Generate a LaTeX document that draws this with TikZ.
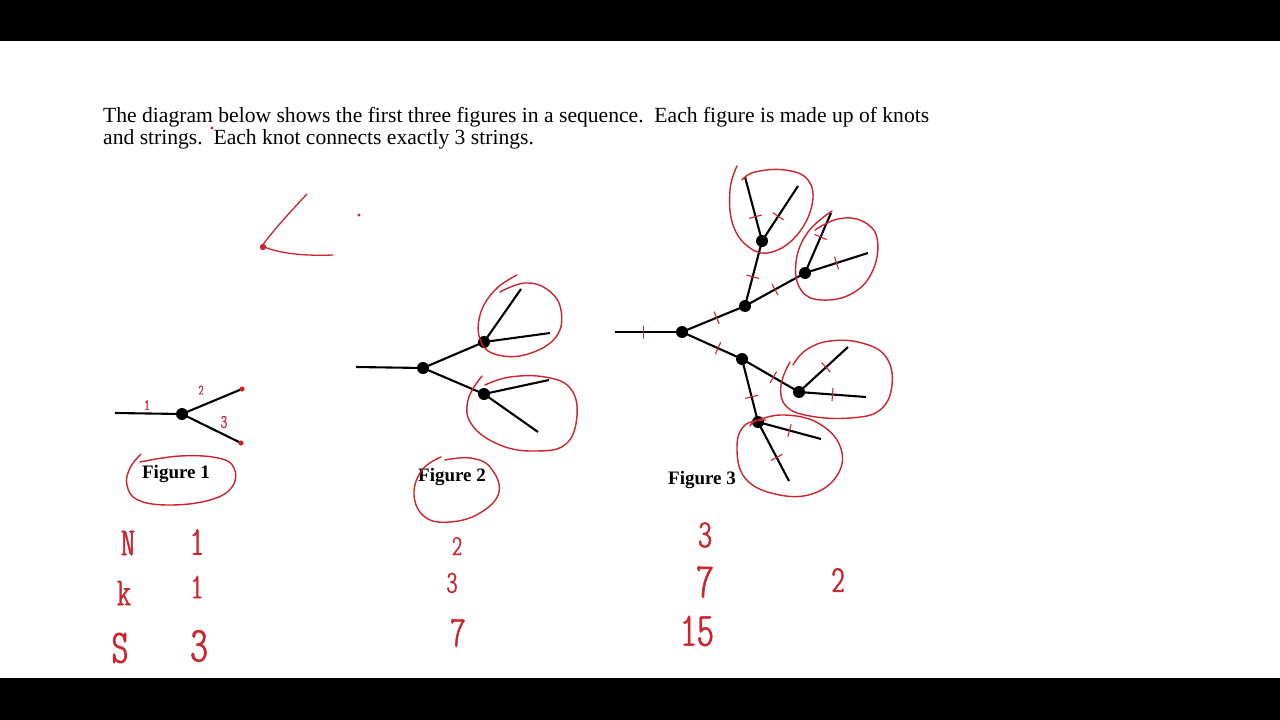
\documentclass[tikz,border=0pt]{standalone}
\usepackage{fontspec}
\setmainfont{Liberation Serif}
\newfontfamily\handfont{lmmonoltcond10-regular.otf}[FakeBold=1]
\begin{document}
\begin{tikzpicture}[x=1pt,y=-1pt,
  string/.style={line width=2.1pt,black},
  knot/.style={circle,fill=black,inner sep=0pt,minimum size=12pt},
  endpt/.style={inner sep=0pt,minimum size=0pt},
  ink/.style={draw=hand,line width=1.3pt,line cap=round,line join=round},
  loopline/.style={draw=hand,line width=1.4pt,line cap=round},
  tickmark/.style={draw=hand,line width=1.1pt,inner sep=0pt,minimum width=0pt,minimum height=13pt},
  hw/.style={text=hand,inner sep=0pt},
  figlabel/.style={font=\bfseries\fontsize{19}{22}\selectfont,inner sep=0pt}]
\definecolor{hand}{RGB}{205,35,45}
\useasboundingbox (0,0) rectangle (1280,720);
\fill[white] (0,0) rectangle (1280,720);
\fill[black] (0,0) rectangle (1280,41);
\fill[black] (0,678) rectangle (1280,720);

% heading text
\node[anchor=base west,inner sep=0pt,font=\fontsize{21.6}{24}\selectfont] (t1) at (103,122) {The diagram below shows the first three figures in a sequence.\ \ Each figure is made up of knots};
\node[anchor=base west,inner sep=0pt,font=\fontsize{21.6}{24}\selectfont] (t2) at (103,144) {and strings.\ \ Each knot connects exactly 3 strings.};

% red marks at top
\fill[hand] (212,128) circle (1.6);
\draw[ink] (307,194) .. controls (290,212) and (272,232) .. (262,246) .. controls (280,254) and (305,256) .. (333,255);
\fill[hand] (263,247) circle (3.2);
\fill[hand] (359,215) circle (1.7);

% ---------- Figure 1 ----------
\node[endpt] (a0) at (115,413) {};
\node[knot] (a1) at (182,414) {};
\node[endpt] (a2) at (242,389) {};
\node[endpt] (a3) at (241,443) {};
\draw[string] (a0.center) -- (a1.center) -- (a2.center);
\draw[string] (a1.center) -- (a3.center);
\fill[hand] (a2) circle (2.6);
\fill[hand] (a3) circle (2.6);
\node[hw,font=\handfont\fontsize{16}{16}\selectfont] (l1) at (147,405) {1};
\node[hw,font=\handfont\fontsize{14}{14}\selectfont] (l2) at (201,390) {2};
\node[hw,font=\handfont\fontsize{19}{19}\selectfont] (l3) at (224,422) {3};
\node[figlabel] (f1) at (176,474) {Figure 1};
\draw[loopline] plot[smooth,tension=0.7] coordinates {(141,454) (130,468) (127,485) (138,500) (170,505) (210,500) (232,487) (234,468) (218,458) (180,456) (140,462)};

% ---------- Figure 2 ----------
\node[endpt] (b0) at (356,367) {};
\node[knot] (b1) at (423,368) {};
\node[knot] (b2) at (484,342) {};
\node[knot] (b3) at (484,394) {};
\node[endpt] (b4) at (521,289) {};
\node[endpt] (b5) at (550,333) {};
\node[endpt] (b6) at (549,380) {};
\node[endpt] (b7) at (538,432) {};
\draw[string] (b0.center) -- (b1.center);
\draw[string] (b1.center) -- (b2.center);
\draw[string] (b1.center) -- (b3.center);
\draw[string] (b2.center) -- (b4.center);
\draw[string] (b2.center) -- (b5.center);
\draw[string] (b3.center) -- (b6.center);
\draw[string] (b3.center) -- (b7.center);
\draw[loopline] plot[smooth,tension=0.7] coordinates {(517,275) (495,290) (480,315) (481,342) (498,355) (528,354) (556,337) (561,310) (548,290) (525,283) (500,292)};
\draw[loopline] plot[smooth,tension=0.7] coordinates {(482,376) (468,400) (472,425) (500,445) (535,451) (566,444) (577,415) (570,388) (545,377) (510,377) (485,385)};
\node[figlabel] (f2) at (452,477) {Figure 2};
\draw[loopline] plot[smooth,tension=0.7] coordinates {(441,457) (422,470) (414,495) (425,517) (450,522) (480,513) (499,492) (490,467) (470,458) (445,460)};

% ---------- Figure 3 ----------
\node[endpt] (c0) at (615,332) {};
\node[knot] (k0) at (682,332) {};
\node[knot] (k1) at (745,306) {};
\node[knot] (k2) at (762,241) {};
\node[knot] (k3) at (805,273) {};
\node[knot] (k4) at (742,359) {};
\node[knot] (k5) at (799,392) {};
\node[knot] (k6) at (758,422) {};
\node[endpt] (e1) at (745,177) {};
\node[endpt] (e2) at (798,186) {};
\node[endpt] (e3) at (831,213) {};
\node[endpt] (e4) at (868,253) {};
\node[endpt] (e5) at (848,347) {};
\node[endpt] (e6) at (866,397) {};
\node[endpt] (e7) at (821,439) {};
\node[endpt] (e8) at (789,481) {};
\draw[string] (c0.center) -- (k0.center) node[pos=0.42,sloped,tickmark] {};
\draw[string] (k0.center) -- (k1.center) node[pos=0.55,sloped,tickmark] {};
\draw[string] (k1.center) -- (k2.center) node[pos=0.45,sloped,tickmark] {};
\draw[string] (k1.center) -- (k3.center) node[pos=0.5,sloped,tickmark] {};
\draw[string] (k2.center) -- (e1.center) node[pos=0.38,sloped,tickmark] {};
\draw[string] (k2.center) -- (e2.center) node[pos=0.45,sloped,tickmark] {};
\draw[string] (k3.center) -- (e3.center) node[pos=0.6,sloped,tickmark] {};
\draw[string] (k3.center) -- (e4.center) node[pos=0.5,sloped,tickmark] {};
\draw[string] (k0.center) -- (k4.center) node[pos=0.6,sloped,tickmark] {};
\draw[string] (k4.center) -- (k5.center) node[pos=0.55,sloped,tickmark] {};
\draw[string] (k4.center) -- (k6.center) node[pos=0.6,sloped,tickmark] {};
\draw[string] (k5.center) -- (e5.center) node[pos=0.55,sloped,tickmark] {};
\draw[string] (k5.center) -- (e6.center) node[pos=0.5,sloped,tickmark] {};
\draw[string] (k6.center) -- (e7.center) node[pos=0.5,sloped,tickmark] {};
\draw[string] (k6.center) -- (e8.center) node[pos=0.6,sloped,tickmark] {};
\draw[loopline] plot[smooth,tension=0.7] coordinates {(737,166) (730,190) (733,225) (750,248) (772,252) (797,235) (812,205) (808,180) (785,170) (755,172) (742,180)};
\draw[loopline] plot[smooth,tension=0.7] coordinates {(832,211) (808,232) (796,262) (801,290) (822,300) (853,293) (873,270) (877,238) (862,221) (838,219) (815,230)};
\draw[loopline] plot[smooth,tension=0.7] coordinates {(790,362) (781,385) (786,406) (810,416) (850,418) (880,410) (892,385) (886,357) (862,343) (830,341) (806,350) (793,365)};
\draw[loopline] plot[smooth,tension=0.7] coordinates {(766,420) (745,425) (737,447) (745,478) (775,494) (812,494) (838,474) (840,446) (818,423) (785,415) (758,420) (750,426)};
\node[figlabel] (f3) at (702,480) {Figure 3};

% ---------- handwritten table ----------
\node[hw,font=\handfont\fontsize{40}{40}\selectfont] (nN) at (128,543) {N};
\node[hw,font=\handfont\fontsize{40}{40}\selectfont] (nK) at (124,593) {k};
\node[hw,font=\handfont\fontsize{48}{48}\selectfont] (nS) at (120,648) {S};
\node[hw,font=\handfont\fontsize{41}{41}\selectfont] (n11) at (197,542) {1};
\node[hw,font=\handfont\fontsize{36}{36}\selectfont] (n12) at (197,587) {1};
\node[hw,font=\handfont\fontsize{50}{50}\selectfont] (n13) at (199,646) {3};
\node[hw,font=\handfont\fontsize{29}{29}\selectfont] (n21) at (457,546) {2};
\node[hw,font=\handfont\fontsize{32}{32}\selectfont] (n22) at (452,583) {3};
\node[hw,font=\handfont\fontsize{44}{44}\selectfont] (n23) at (458,633) {7};
\node[hw,font=\handfont\fontsize{40}{40}\selectfont] (n31) at (705,535) {3};
\node[hw,font=\handfont\fontsize{50}{50}\selectfont] (n32) at (705,582) {7};
\node[hw,font=\handfont\fontsize{48}{48}\selectfont] (n33) at (697,631) {15};
\node[hw,font=\handfont\fontsize{38}{38}\selectfont] (n42) at (838,580) {2};
\end{tikzpicture}
\end{document}
